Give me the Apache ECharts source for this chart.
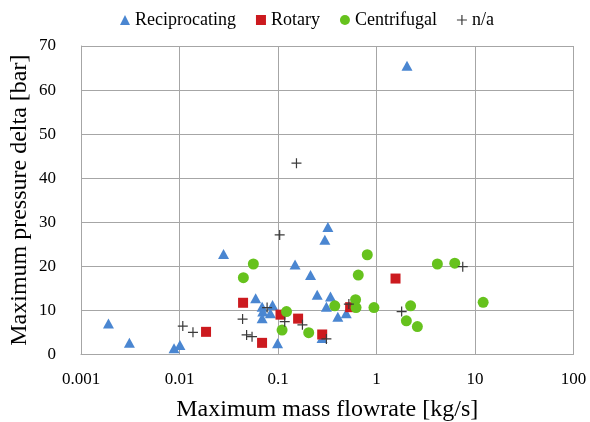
<!DOCTYPE html>
<html>
<head>
<meta charset="utf-8">
<script src="https://cdn.jsdelivr.net/npm/echarts@6/dist/echarts.min.js"></script>
<style>html,body{margin:0;padding:0;background:#fff}#c{width:590px;height:422px}</style>
</head>
<body>
<div id="c"></div>
<script>
const reciprocating = [[0.0019,7.0],[0.0031,2.6],[0.0088,1.4],[0.0101,2.1],[0.028,22.8],[0.0593,12.7],[0.069,10.8],[0.088,11.2],[0.070,9.7],[0.0837,9.3],[0.069,8.2],[0.099,2.5],[0.149,20.4],[0.214,18.0],[0.25,13.5],[0.341,13.1],[0.31,10.8],[0.405,8.5],[0.493,9.3],[0.299,26.0],[0.321,28.9],[0.28,3.7],[2.04,65.5]];
const rotary = [[0.0186,5.1],[0.0442,11.7],[0.0689,2.6],[0.106,9.0],[0.160,8.1],[0.281,4.5],[0.54,10.7],[1.56,17.2]];
const centrifugal = [[0.0445,17.4],[0.0562,20.5],[0.122,9.7],[0.110,5.5],[0.205,4.9],[0.377,11.0],[0.613,12.4],[0.62,10.6],[0.653,18.0],[0.806,22.6],[0.942,10.6],[2.01,7.6],[2.22,11.0],[2.60,6.3],[4.15,20.5],[6.23,20.7],[12.1,11.8]];
const na = [[0.0108,6.4],[0.0137,5.0],[0.0437,8.0],[0.048,4.4],[0.0545,4.0],[0.0775,10.6],[0.104,27.1],[0.117,7.4],[0.154,43.4],[0.177,6.7],[0.31,3.5],[0.524,11.4],[1.80,9.7],[7.51,19.9]];
const xTickLabels = ['0.001','0.01','0.1','1','10','100'];
const seriesNames = ['Reciprocating','Rotary','Centrifugal','n/a'];

const font = '"Liberation Serif", "Times New Roman", serif';
const plusPath = 'path://M4.4,0H5.6V4.4H10V5.6H5.6V10H4.4V5.6H0V4.4H4.4Z';
const chart = echarts.init(document.getElementById('c'), null, {renderer:'canvas'});
chart.setOption({
  animation:false,
  textStyle:{fontFamily:font},
  legend:{
    top:6, left:115, itemGap:20, itemWidth:10, itemHeight:10,
    textStyle:{fontFamily:font,fontSize:18,color:'#000'},
    data:[
      {name:seriesNames[0],icon:'triangle'},
      {name:seriesNames[1],icon:'rect'},
      {name:seriesNames[2],icon:'circle'},
      {name:seriesNames[3],icon:plusPath}
    ]
  },
  grid:{left:81,right:16.5,top:46,bottom:67.7,containLabel:false,outerBoundsMode:'none'},
  xAxis:{
    type:'log', logBase:10, min:0.001, max:100,
    name:'Maximum mass flowrate [kg/s]', nameLocation:'middle', nameGap:43, nameMoveOverlap:false,
    nameTextStyle:{fontFamily:font,fontSize:24,color:'#000'},
    axisLine:{show:true,lineStyle:{color:'#a6a6a6'}},
    axisTick:{show:false},
    splitLine:{show:true,lineStyle:{color:'#a6a6a6',width:1}},
    axisLabel:{fontFamily:font,fontSize:17,color:'#000',margin:17,
      formatter:function(v){const i=Math.round(Math.log10(v))+3;return xTickLabels[i]!==undefined?xTickLabels[i]:'';}}
  },
  yAxis:{
    type:'value', min:0, max:70, interval:10,
    name:'Maximum pressure delta [bar]', nameLocation:'middle', nameGap:49, nameRotate:90, nameMoveOverlap:false,
    nameTextStyle:{fontFamily:font,fontSize:24,color:'#000'},
    axisLine:{show:true,lineStyle:{color:'#a6a6a6'}},
    axisTick:{show:false},
    splitLine:{show:true,lineStyle:{color:'#a6a6a6',width:1}},
    axisLabel:{fontFamily:font,fontSize:17,color:'#000',margin:25}
  },
  series:[
    {name:seriesNames[0],type:'scatter',symbol:'triangle',symbolSize:[11,10],data:reciprocating,itemStyle:{color:'#4a86d1',opacity:1}},
    {name:seriesNames[1],type:'scatter',symbol:'rect',symbolSize:10,data:rotary,itemStyle:{color:'#cc1a1f',opacity:1}},
    {name:seriesNames[2],type:'scatter',symbol:'circle',symbolSize:11,data:centrifugal,itemStyle:{color:'#66c21d',opacity:1}},
    {name:seriesNames[3],type:'scatter',symbol:plusPath,symbolSize:10,data:na,itemStyle:{color:'#3a3a3a',opacity:1}}
  ]
});
</script>
</body>
</html>
